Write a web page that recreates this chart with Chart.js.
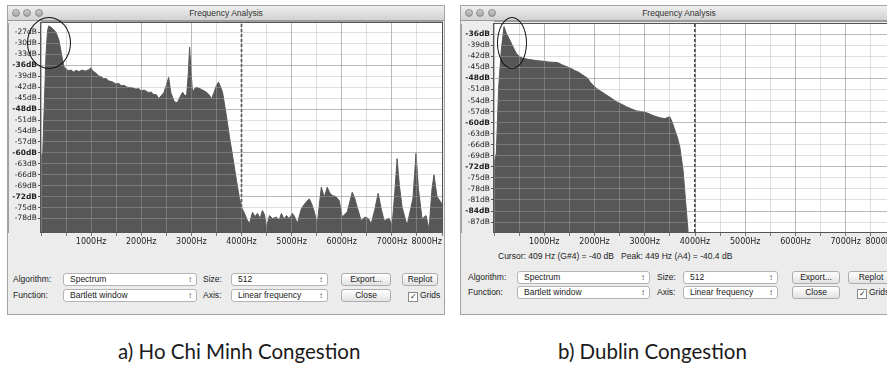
<!DOCTYPE html>
<html>
<head>
<meta charset="utf-8">
<script src="https://cdn.jsdelivr.net/npm/chart.js@4.4.1/dist/chart.umd.min.js"></script>
<style>
  body { margin:0; width:887px; height:374px; overflow:hidden; background:#fff; position:relative; font-family:"Liberation Sans", Arial, sans-serif; }
  .win { position:absolute; top:5px; width:438px; height:310px; background:#ececec; border:1px solid #a4a4a4; box-sizing:border-box; }
  .titlebar { position:absolute; left:0; top:0; right:0; height:15px; background:linear-gradient(#efefef,#d2d2d2); border-bottom:1px solid #9a9a9a; box-sizing:border-box; font-size:8.5px; color:#333; text-align:center; line-height:14px; }
  .dot { position:absolute; top:3px; width:8px; height:8px; border-radius:50%; background:linear-gradient(#cfcfcf,#a2a2a2); border:1px solid #8c8c8c; box-sizing:border-box; }
  canvas { position:absolute; left:0; top:15px; }
  .lbl { position:absolute; font-size:8.5px; color:#222; line-height:13px; white-space:nowrap; }
  .sel { position:absolute; height:13px; background:#fff; border:1px solid #b4b4b4; border-radius:3px; box-sizing:border-box; font-size:8.5px; line-height:11px; padding-left:6px; color:#222; white-space:nowrap; }
  .sel:after { content:"\2195"; position:absolute; right:4px; top:0; font-size:8px; color:#555; }
  .btn { position:absolute; height:13px; background:linear-gradient(#ffffff,#e2e2e2); border:1px solid #adadad; border-radius:3px; box-sizing:border-box; font-size:8.5px; line-height:11px; text-align:center; color:#222; }
  .chk { display:inline-block; width:8px; height:8px; border:1px solid #888; background:#fff; font-size:8px; line-height:8px; text-align:center; vertical-align:-1px; margin-right:2px; }
  .ring { position:absolute; border:1.5px solid #111; border-radius:50%; box-sizing:border-box; }
  .cap { position:absolute; top:339px; font-family:Lato, sans-serif; font-size:20.5px; color:#1a1a1a; white-space:nowrap; }
</style>
</head>
<body>

<div class="win" style="left:7px">
  <div class="titlebar">Frequency Analysis</div>
  <div class="dot" style="left:4px"></div><div class="dot" style="left:15px"></div><div class="dot" style="left:27px"></div>
  <canvas id="hcmChart" width="436" height="227"></canvas>
  <div class="lbl" style="left:5px;top:267px">Algorithm:</div>
  <div class="sel" style="left:55px;top:267px;width:134px">Spectrum</div>
  <div class="lbl" style="left:195px;top:267px">Size:</div>
  <div class="sel" style="left:223px;top:267px;width:97px">512</div>
  <div class="btn" style="left:333px;top:267px;width:50px">Export...</div>
  <div class="btn" style="left:394px;top:267px;width:36px">Replot</div>
  <div class="lbl" style="left:5px;top:283px">Function:</div>
  <div class="sel" style="left:55px;top:283px;width:134px">Bartlett window</div>
  <div class="lbl" style="left:195px;top:283px">Axis:</div>
  <div class="sel" style="left:223px;top:283px;width:97px">Linear frequency</div>
  <div class="btn" style="left:333px;top:283px;width:50px">Close</div>
  <div class="lbl" style="left:400px;top:283px"><span class="chk">✓</span>Grids</div>
</div>

<div class="win" style="left:460px">
  <div class="titlebar">Frequency Analysis</div>
  <div class="dot" style="left:4px"></div><div class="dot" style="left:15px"></div><div class="dot" style="left:27px"></div>
  <canvas id="dublinChart" width="437" height="229"></canvas>
  <div class="lbl" style="left:37px;top:244px">Cursor: 409 Hz (G#4) = -40 dB &nbsp;&nbsp;Peak: 449 Hz (A4) = -40.4 dB</div>
  <div class="lbl" style="left:7px;top:265px">Algorithm:</div>
  <div class="sel" style="left:56px;top:265px;width:133px">Spectrum</div>
  <div class="lbl" style="left:196px;top:265px">Size:</div>
  <div class="sel" style="left:222px;top:265px;width:95px">512</div>
  <div class="btn" style="left:331px;top:265px;width:48px">Export...</div>
  <div class="btn" style="left:387px;top:265px;width:46px">Replot</div>
  <div class="lbl" style="left:7px;top:280px">Function:</div>
  <div class="sel" style="left:56px;top:280px;width:133px">Bartlett window</div>
  <div class="lbl" style="left:196px;top:280px">Axis:</div>
  <div class="sel" style="left:222px;top:280px;width:95px">Linear frequency</div>
  <div class="btn" style="left:331px;top:280px;width:48px">Close</div>
  <div class="lbl" style="left:396px;top:280px"><span class="chk">✓</span>Grids</div>
</div>

<div class="ring" style="left:27px;top:17px;width:44px;height:52px"></div>
<div class="ring" style="left:497px;top:17px;width:30px;height:52px"></div>

<div class="cap" style="left:118px">a) Ho Chi Minh Congestion</div>
<div class="cap" style="left:558px">b) Dublin Congestion</div>

<script>
Chart.defaults.font.family = '"DejaVu Sans", sans-serif';
Chart.defaults.font.size = 8;
Chart.defaults.color = '#222';

// frequency ticks (Hz), shared by both plots
const freqTicks = [0, 500, 1000, 1500, 2000, 2500, 3000, 3500, 4000, 4500, 5000, 5500, 6000, 6500, 7000, 7500, 8000];
const cursorHz = 4000;

// a) Ho Chi Minh
const hcmFreq = [0, 35, 70, 100, 130, 155, 200, 250, 300, 360, 420, 460, 500, 540, 600, 650, 700, 760, 820, 880, 955, 995,
  1040, 1100, 1150, 1200, 1250, 1300, 1350, 1420, 1493, 1550, 1600, 1660, 1720, 1800, 1891, 1950, 2000, 2060, 2149, 2200,
  2250, 2300, 2348, 2400, 2450, 2500, 2547, 2590, 2647, 2690, 2726, 2780, 2826, 2870, 2905, 2940, 2965, 2995, 3025, 3060,
  3104, 3200, 3303, 3360, 3403, 3450, 3500, 3542, 3590, 3622, 3700, 3761, 3830, 3900, 3960, 4000, 4060, 4110, 4159, 4219,
  4270, 4318, 4370, 4418, 4460, 4497, 4557, 4620, 4696, 4750, 4796, 4850, 4895, 4950, 5015, 5060, 5114, 5194, 5270, 5353,
  5400, 5453, 5512, 5592, 5652, 5711, 5760, 5811, 5880, 5950, 6010, 6109, 6160, 6209, 6260, 6308, 6388, 6440, 6487, 6540,
  6587, 6660, 6726, 6790, 6846, 6945, 7005, 7060, 7104, 7150, 7204, 7303, 7420, 7482, 7530, 7602, 7681, 7741, 7800, 7840,
  7900, 8000];
const hcmDb = [-61, -60, -45, -33, -26.5, -25.2, -25.6, -26.2, -27, -29.2, -33.8, -36.5, -36.9, -37.5, -37.3, -37.8, -37.4,
  -37.7, -37.3, -37.6, -37.2, -36.7, -37.6, -38.2, -38.9, -39.1, -39.7, -39.6, -40.3, -40.5, -41.1, -40.9, -41.6, -41.5,
  -42.0, -42.1, -42.5, -42.4, -43.0, -42.8, -43.5, -43.3, -44.1, -44.0, -45.1, -44.3, -43.5, -41.5, -39.3, -43.5, -45.6,
  -46.2, -46.1, -44.5, -43.4, -44.3, -44.3, -38, -31, -38, -43.8, -42.4, -42.0, -42.6, -43.4, -44.2, -45.2, -43.5, -41.5,
  -40.6, -42.2, -43.4, -50, -55.7, -61.5, -67.6, -72.5, -74.9, -76.6, -78.3, -79.4, -76.3, -77.5, -76.6, -78.0, -75.8,
  -77.0, -80.4, -77.2, -78.0, -77.6, -78.5, -76.6, -78.2, -77.2, -78.0, -76.6, -77.5, -79.4, -75.3, -73.8, -72.6, -74.0,
  -76.2, -79.4, -69.4, -72.2, -69.4, -71.0, -71.7, -72.0, -73.1, -77.6, -76.2, -73.5, -70.8, -72.5, -74.9, -78.6, -77.8,
  -77.6, -78.2, -79.5, -75.5, -71.1, -75.5, -78.6, -78.0, -79.9, -70.5, -61.6, -69.0, -74.9, -79.9, -72.5, -60.1, -70.0,
  -78.1, -77.2, -81.0, -70.0, -66.0, -72.0, -74.0];
const hcmTicks = [-27, -30, -33, -36, -39, -42, -45, -48, -51, -54, -57, -60, -63, -66, -69, -72, -75, -78];

// b) Dublin
const dubFreq = [0, 46, 93, 145, 199, 245, 312, 378, 443, 511, 576, 676, 775, 875, 975, 1074, 1170, 1272, 1372, 1450,
  1537, 1600, 1670, 1760, 1869, 1909, 1970, 2041, 2140, 2240, 2340, 2439, 2540, 2638, 2740, 2837, 2940, 3036, 3140, 3234,
  3320, 3400, 3450, 3499, 3550, 3598, 3650, 3698, 3763, 3817, 3863];
const dubDb = [-71, -68.4, -50.3, -40.3, -33.9, -35.7, -37.5, -39.4, -41.2, -42.1, -42.5, -42.8, -43.0, -43.2, -43.3,
  -43.5, -43.6, -43.7, -44.4, -44.8, -45.3, -45.8, -46.2, -47.0, -48.0, -48.9, -49.8, -50.7, -51.6, -52.5, -53.4, -54.3,
  -55.0, -55.7, -56.3, -56.8, -57.0, -57.3, -57.9, -58.4, -58.7, -58.9, -58.6, -58.4, -60.0, -62.0, -64.0, -66.6, -73.0,
  -82.0, -89.7];
const dubTicks = [-36, -39, -42, -45, -48, -51, -54, -57, -60, -63, -66, -69, -72, -75, -78, -81, -84, -87];

const plotFrame = {
  id: 'plotFrame',
  beforeDraw(chart) {
    const {ctx, chartArea: a} = chart;
    ctx.save();
    ctx.fillStyle = '#fff';
    ctx.fillRect(a.left, a.top, a.width, a.height);
    ctx.restore();
  },
  afterDraw(chart) {
    const {ctx, chartArea: a} = chart;
    ctx.save();
    ctx.strokeStyle = '#555';
    ctx.lineWidth = 1;
    ctx.strokeRect(a.left - 0.5, a.top - 0.5, a.width + 1, a.height + 1);
    ctx.restore();
  }
};

function spectrum(id, freqs, dbs, yTicks, yMin, yMax, padTop, padRight, xHeight) {
  const ctx = document.getElementById(id).getContext('2d');
  return new Chart(ctx, {
    type: 'line',
    data: {
      datasets: [{
        data: freqs.map((f, i) => ({x: f, y: dbs[i]})),
        fill: 'start',
        backgroundColor: '#575757',
        borderColor: '#575757',
        borderWidth: 1,
        pointRadius: 0,
        tension: 0
      }, {
        data: [{x: cursorHz, y: yMin}, {x: cursorHz, y: yMax}],
        borderColor: '#111',
        borderWidth: 1.5,
        borderDash: [3, 2],
        pointRadius: 0,
        fill: false
      }]
    },
    options: {
      responsive: false,
      animation: false,
      layout: { padding: { top: padTop, right: padRight, left: 0, bottom: 0 } },
      plugins: { legend: { display: false }, tooltip: { enabled: false } },
      scales: {
        x: {
          type: 'linear',
          min: 0,
          max: 8000,
          afterBuildTicks: s => { s.ticks = freqTicks.map(v => ({value: v})); },
          afterFit: s => { s.height = xHeight; s.paddingLeft = 0; s.paddingRight = 0; },
          grid: {
            z: 1,
            color: c => c.tick && c.tick.value % 1000 === 0 ? 'rgba(140,140,140,0.6)' : 'rgba(175,175,175,0.4)',
            tickLength: 4,
            tickColor: '#777'
          },
          border: { color: '#555' },
          ticks: {
            autoSkip: false,
            maxRotation: 0,
            align: 'inner',
            padding: 1,
            callback: v => (v > 0 && v % 1000 === 0) ? v + 'Hz' : ''
          }
        },
        y: {
          min: yMin,
          max: yMax,
          afterBuildTicks: s => { s.ticks = yTicks.map(v => ({value: v})); },
          afterFit: s => { s.width = 33; s.paddingTop = 0; s.paddingBottom = 0; },
          grid: {
            z: 1,
            color: c => c.tick && c.tick.value % 12 === 0 ? 'rgba(140,140,140,0.6)' : 'rgba(175,175,175,0.4)',
            tickLength: 3,
            tickColor: '#555'
          },
          border: { color: '#555' },
          ticks: {
            autoSkip: false,
            padding: 1,
            font: c => ({ size: 7.5, weight: c.tick && c.tick.value % 12 === 0 ? 'bold' : 'normal' }),
            callback: v => v + 'dB'
          }
        }
      }
    },
    plugins: [plotFrame]
  });
}

const hcmChart = spectrum('hcmChart', hcmFreq, hcmDb, hcmTicks, -81.7, -24.4, 2, 2, 16);
const dublinChart = spectrum('dublinChart', dubFreq, dubDb, dubTicks, -89.7, -33.2, 3, 2, 18);
</script>
</body>
</html>
